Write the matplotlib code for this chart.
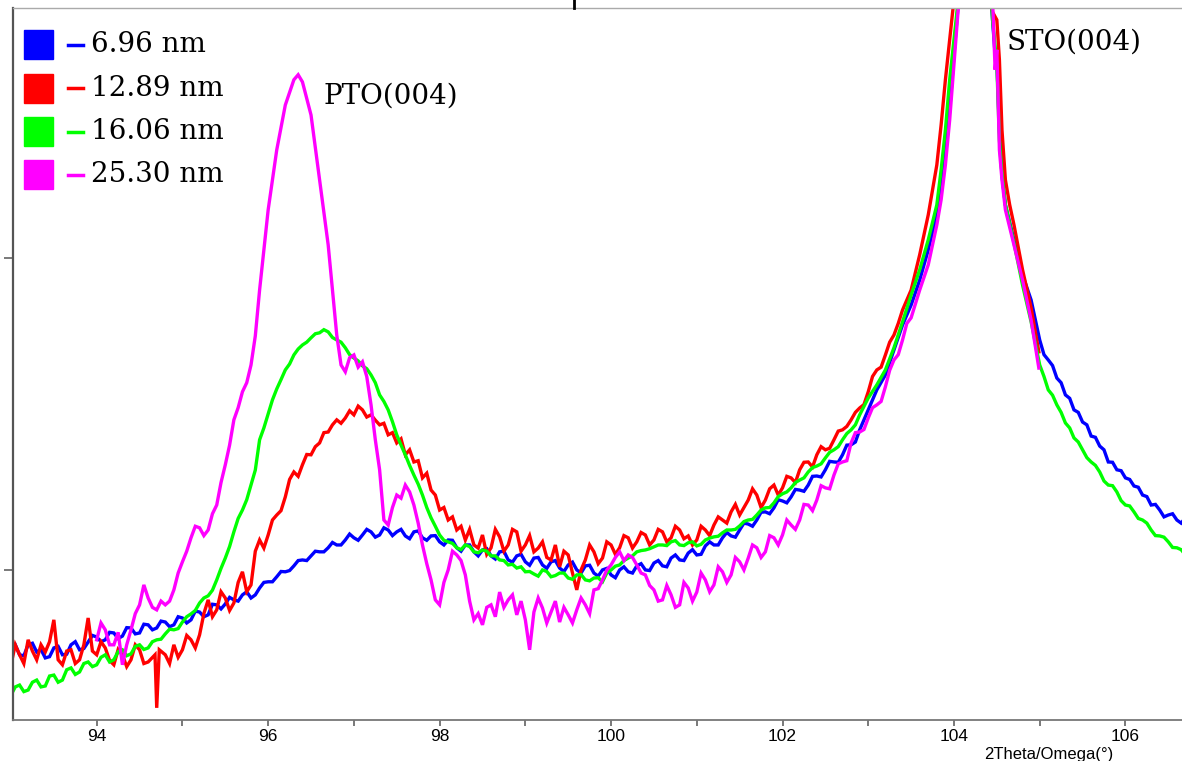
import matplotlib
matplotlib.use("Agg")
import matplotlib.pyplot as plt
from matplotlib.patches import Rectangle
from matplotlib.lines import Line2D

# ---------------- data: (2Theta [deg], log10 intensity) ----------------
labels = ["6.96 nm", "12.89 nm", "16.06 nm", "25.30 nm"]
colors = ["#0000ff", "#ff0000", "#00ff00", "#ff00ff"]

blue_pts = [
    (93.0, 1.744), (93.05, 1.760), (93.1, 1.728), (93.15, 1.725), (93.2, 1.760), (93.25, 1.765),
    (93.3, 1.737), (93.35, 1.745), (93.4, 1.718), (93.45, 1.722), (93.5, 1.750), (93.55, 1.755),
    (93.6, 1.728), (93.65, 1.730), (93.7, 1.760), (93.75, 1.770), (93.8, 1.744), (93.85, 1.748),
    (93.9, 1.769), (93.95, 1.790), (94.0, 1.785), (94.05, 1.770), (94.1, 1.776), (94.15, 1.800),
    (94.2, 1.798), (94.25, 1.780), (94.3, 1.788), (94.35, 1.815), (94.4, 1.814), (94.45, 1.795),
    (94.5, 1.798), (94.55, 1.826), (94.6, 1.824), (94.65, 1.808), (94.7, 1.814), (94.75, 1.836),
    (94.8, 1.833), (94.85, 1.818), (94.9, 1.824), (94.95, 1.850), (95.0, 1.846), (95.05, 1.830),
    (95.1, 1.840), (95.15, 1.868), (95.2, 1.865), (95.25, 1.850), (95.3, 1.856), (95.35, 1.890),
    (95.4, 1.888), (95.45, 1.875), (95.5, 1.891), (95.55, 1.912), (95.6, 1.904), (95.65, 1.900),
    (95.7, 1.920), (95.75, 1.930), (95.8, 1.910), (95.85, 1.920), (95.9, 1.942), (95.95, 1.960),
    (96.0, 1.962), (96.05, 1.962), (96.1, 1.978), (96.15, 1.995), (96.2, 1.994), (96.25, 1.998),
    (96.3, 2.013), (96.35, 2.030), (96.4, 2.032), (96.45, 2.030), (96.5, 2.045), (96.55, 2.060),
    (96.6, 2.058), (96.65, 2.058), (96.7, 2.071), (96.75, 2.088), (96.8, 2.080), (96.85, 2.080),
    (96.9, 2.096), (96.95, 2.115), (97.0, 2.103), (97.05, 2.095), (97.1, 2.112), (97.15, 2.130),
    (97.2, 2.122), (97.25, 2.105), (97.3, 2.112), (97.35, 2.135), (97.4, 2.128), (97.45, 2.110),
    (97.5, 2.122), (97.55, 2.130), (97.6, 2.109), (97.65, 2.100), (97.7, 2.122), (97.75, 2.125),
    (97.8, 2.103), (97.85, 2.095), (97.9, 2.109), (97.95, 2.110), (98.0, 2.090), (98.05, 2.080),
    (98.1, 2.096), (98.15, 2.095), (98.2, 2.071), (98.25, 2.060), (98.3, 2.080), (98.35, 2.080),
    (98.4, 2.058), (98.45, 2.045), (98.5, 2.064), (98.55, 2.068), (98.6, 2.045), (98.65, 2.035),
    (98.7, 2.058), (98.75, 2.060), (98.8, 2.032), (98.85, 2.025), (98.9, 2.045), (98.95, 2.050),
    (99.0, 2.026), (99.05, 2.015), (99.1, 2.038), (99.15, 2.040), (99.2, 2.016), (99.25, 2.005),
    (99.3, 2.026), (99.35, 2.030), (99.4, 2.006), (99.45, 1.995), (99.5, 2.016), (99.55, 2.025),
    (99.6, 2.000), (99.65, 1.990), (99.7, 2.013), (99.75, 2.015), (99.8, 1.990), (99.85, 1.980),
    (99.9, 2.000), (99.95, 2.005), (100.0, 1.984), (100.05, 1.975), (100.1, 2.000), (100.15, 2.010),
    (100.2, 1.994), (100.25, 1.990), (100.3, 2.013), (100.35, 2.020), (100.4, 2.000), (100.45, 1.998),
    (100.5, 2.022), (100.55, 2.030), (100.6, 2.013), (100.65, 2.010), (100.7, 2.038), (100.75, 2.048),
    (100.8, 2.032), (100.85, 2.030), (100.9, 2.054), (100.95, 2.065), (101.0, 2.048), (101.05, 2.050),
    (101.1, 2.077), (101.15, 2.090), (101.2, 2.080), (101.25, 2.080), (101.3, 2.103), (101.35, 2.120),
    (101.4, 2.109), (101.45, 2.105), (101.5, 2.128), (101.55, 2.150), (101.6, 2.147), (101.65, 2.140),
    (101.7, 2.160), (101.75, 2.185), (101.8, 2.186), (101.85, 2.180), (101.9, 2.199), (101.95, 2.225),
    (102.0, 2.221), (102.05, 2.215), (102.1, 2.234), (102.15, 2.258), (102.2, 2.256), (102.25, 2.252),
    (102.3, 2.272), (102.35, 2.300), (102.4, 2.301), (102.45, 2.298), (102.5, 2.321), (102.55, 2.348),
    (102.6, 2.346), (102.65, 2.345), (102.7, 2.369), (102.75, 2.400), (102.8, 2.401), (102.85, 2.410),
    (102.9, 2.449), (103.0, 2.513), (103.1, 2.577), (103.2, 2.625), (103.3, 2.705), (103.4, 2.785),
    (103.5, 2.849), (103.6, 2.929), (103.7, 3.026), (103.8, 3.138), (103.85, 3.218), (103.9, 3.330),
    (103.95, 3.474), (104.0, 3.651), (104.05, 3.811), (104.15, 4.200), (104.25, 4.500), (104.35, 4.200),
    (104.45, 3.763), (104.48, 3.651), (104.5, 3.635), (104.53, 3.410), (104.56, 3.266), (104.6, 3.170),
    (104.7, 3.058), (104.8, 2.946), (104.9, 2.865), (105.0, 2.737), (105.05, 2.690), (105.1, 2.673),
    (105.15, 2.655), (105.2, 2.615), (105.25, 2.600), (105.3, 2.561), (105.35, 2.550), (105.4, 2.513),
    (105.45, 2.505), (105.5, 2.474), (105.55, 2.465), (105.6, 2.429), (105.65, 2.425), (105.7, 2.397),
    (105.75, 2.385), (105.8, 2.346), (105.85, 2.345), (105.9, 2.321), (105.95, 2.318), (106.0, 2.295),
    (106.05, 2.290), (106.1, 2.269), (106.15, 2.265), (106.2, 2.240), (106.25, 2.235), (106.3, 2.208),
    (106.35, 2.210), (106.4, 2.192), (106.45, 2.170), (106.5, 2.176), (106.55, 2.180), (106.6, 2.160),
    (106.65, 2.150), (106.7, 2.167),
]

red_pts = [
    (93.0, 1.696), (93.05, 1.760), (93.1, 1.728), (93.15, 1.700), (93.2, 1.776), (93.25, 1.740),
    (93.3, 1.712), (93.35, 1.760), (93.4, 1.737), (93.45, 1.770), (93.5, 1.840), (93.55, 1.712),
    (93.6, 1.696), (93.65, 1.740), (93.7, 1.744), (93.75, 1.700), (93.8, 1.712), (93.85, 1.760),
    (93.9, 1.846), (93.95, 1.740), (94.0, 1.728), (94.05, 1.770), (94.1, 1.750), (94.15, 1.710),
    (94.2, 1.696), (94.25, 1.745), (94.3, 1.728), (94.35, 1.690), (94.4, 1.712), (94.45, 1.760),
    (94.5, 1.744), (94.55, 1.700), (94.6, 1.705), (94.68, 1.728), (94.7, 1.558), (94.73, 1.744),
    (94.8, 1.728), (94.85, 1.700), (94.9, 1.760), (94.95, 1.720), (95.0, 1.744), (95.05, 1.790),
    (95.1, 1.776), (95.15, 1.750), (95.2, 1.792), (95.25, 1.860), (95.3, 1.904), (95.35, 1.850),
    (95.4, 1.872), (95.45, 1.930), (95.5, 1.910), (95.55, 1.870), (95.6, 1.894), (95.65, 1.960),
    (95.7, 1.994), (95.75, 1.930), (95.8, 1.952), (95.85, 2.060), (95.9, 2.096), (95.95, 2.070),
    (96.0, 2.112), (96.05, 2.160), (96.1, 2.176), (96.15, 2.190), (96.2, 2.234), (96.25, 2.290),
    (96.3, 2.314), (96.35, 2.300), (96.4, 2.337), (96.45, 2.370), (96.5, 2.369), (96.55, 2.395),
    (96.6, 2.407), (96.65, 2.440), (96.7, 2.442), (96.75, 2.465), (96.8, 2.481), (96.85, 2.470),
    (96.9, 2.487), (96.95, 2.510), (97.0, 2.497), (97.05, 2.525), (97.1, 2.513), (97.15, 2.490),
    (97.2, 2.497), (97.25, 2.480), (97.3, 2.465), (97.35, 2.470), (97.4, 2.433), (97.45, 2.440),
    (97.5, 2.407), (97.55, 2.420), (97.6, 2.369), (97.65, 2.385), (97.7, 2.346), (97.75, 2.350),
    (97.8, 2.295), (97.85, 2.310), (97.9, 2.256), (97.95, 2.240), (98.0, 2.192), (98.05, 2.200),
    (98.1, 2.160), (98.15, 2.170), (98.2, 2.128), (98.25, 2.140), (98.3, 2.096), (98.35, 2.130),
    (98.4, 2.080), (98.45, 2.070), (98.5, 2.112), (98.55, 2.050), (98.6, 2.071), (98.65, 2.130),
    (98.7, 2.106), (98.75, 2.060), (98.8, 2.080), (98.85, 2.130), (98.9, 2.122), (98.95, 2.060),
    (99.0, 2.080), (99.05, 2.110), (99.1, 2.058), (99.15, 2.070), (99.2, 2.090), (99.25, 2.040),
    (99.3, 2.032), (99.35, 2.080), (99.4, 2.010), (99.45, 2.060), (99.5, 2.048), (99.55, 1.990),
    (99.6, 1.936), (99.65, 2.000), (99.7, 2.032), (99.75, 2.080), (99.8, 2.058), (99.85, 2.020),
    (99.9, 2.038), (99.95, 2.090), (100.0, 2.080), (100.05, 2.050), (100.1, 2.071), (100.15, 2.110),
    (100.2, 2.103), (100.25, 2.070), (100.3, 2.090), (100.35, 2.120), (100.4, 2.112), (100.45, 2.080),
    (100.5, 2.096), (100.55, 2.130), (100.6, 2.122), (100.65, 2.090), (100.7, 2.103), (100.75, 2.140),
    (100.8, 2.128), (100.85, 2.100), (100.9, 2.109), (100.95, 2.080), (101.0, 2.096), (101.05, 2.140),
    (101.1, 2.128), (101.15, 2.110), (101.2, 2.144), (101.25, 2.170), (101.3, 2.160), (101.35, 2.150),
    (101.4, 2.186), (101.45, 2.210), (101.5, 2.176), (101.55, 2.200), (101.6, 2.224), (101.65, 2.260),
    (101.7, 2.240), (101.75, 2.200), (101.8, 2.224), (101.85, 2.260), (101.9, 2.272), (101.95, 2.240),
    (102.0, 2.263), (102.05, 2.300), (102.1, 2.295), (102.15, 2.280), (102.2, 2.321), (102.25, 2.345),
    (102.3, 2.346), (102.35, 2.330), (102.4, 2.369), (102.45, 2.395), (102.5, 2.385), (102.55, 2.390),
    (102.6, 2.417), (102.65, 2.445), (102.7, 2.449), (102.75, 2.460), (102.8, 2.481), (102.85, 2.505),
    (102.9, 2.519), (102.95, 2.530), (103.0, 2.571), (103.05, 2.620), (103.1, 2.641), (103.15, 2.650),
    (103.2, 2.689), (103.25, 2.730), (103.3, 2.753), (103.35, 2.790), (103.4, 2.833), (103.5, 2.897),
    (103.6, 3.010), (103.7, 3.138), (103.8, 3.298), (103.85, 3.426), (103.9, 3.571), (103.95, 3.699),
    (104.0, 3.827), (104.1, 4.300), (104.25, 4.600), (104.38, 4.200), (104.42, 3.827), (104.45, 3.788),
    (104.5, 3.763), (104.53, 3.635), (104.56, 3.410), (104.6, 3.250), (104.65, 3.170), (104.7, 3.106),
    (104.8, 2.962), (104.9, 2.840), (104.99, 2.699),
]

green_pts = [
    (93.0, 1.599), (93.05, 1.625), (93.1, 1.631), (93.15, 1.610), (93.2, 1.615), (93.25, 1.640),
    (93.3, 1.647), (93.35, 1.625), (93.4, 1.628), (93.45, 1.660), (93.5, 1.663), (93.55, 1.640),
    (93.6, 1.647), (93.65, 1.680), (93.7, 1.686), (93.75, 1.665), (93.8, 1.673), (93.85, 1.700),
    (93.9, 1.705), (93.95, 1.690), (94.0, 1.696), (94.05, 1.720), (94.1, 1.728), (94.15, 1.705),
    (94.2, 1.712), (94.25, 1.738), (94.3, 1.744), (94.35, 1.725), (94.4, 1.731), (94.45, 1.755),
    (94.5, 1.760), (94.55, 1.745), (94.6, 1.750), (94.65, 1.770), (94.7, 1.776), (94.75, 1.778),
    (94.8, 1.795), (94.85, 1.810), (94.9, 1.808), (94.95, 1.812), (95.0, 1.833), (95.05, 1.850),
    (95.1, 1.859), (95.15, 1.870), (95.2, 1.894), (95.25, 1.910), (95.3, 1.917), (95.35, 1.935),
    (95.4, 1.968), (95.45, 2.005), (95.5, 2.038), (95.55, 2.075), (95.6, 2.122), (95.65, 2.165),
    (95.7, 2.192), (95.75, 2.225), (95.8, 2.272), (95.85, 2.320), (95.9, 2.417), (95.95, 2.455),
    (96.0, 2.500), (96.05, 2.545), (96.1, 2.580), (96.15, 2.610), (96.2, 2.641), (96.25, 2.660),
    (96.3, 2.689), (96.35, 2.708), (96.4, 2.721), (96.45, 2.730), (96.5, 2.744), (96.55, 2.757),
    (96.6, 2.760), (96.65, 2.770), (96.7, 2.763), (96.75, 2.745), (96.8, 2.737), (96.85, 2.730),
    (96.9, 2.712), (96.95, 2.690), (97.0, 2.679), (97.05, 2.670), (97.1, 2.654), (97.15, 2.645),
    (97.2, 2.625), (97.25, 2.600), (97.3, 2.561), (97.35, 2.540), (97.4, 2.513), (97.45, 2.475),
    (97.5, 2.433), (97.55, 2.400), (97.6, 2.369), (97.65, 2.335), (97.7, 2.304), (97.75, 2.275),
    (97.8, 2.240), (97.85, 2.200), (97.9, 2.167), (97.95, 2.140), (98.0, 2.112), (98.05, 2.095),
    (98.1, 2.090), (98.15, 2.085), (98.2, 2.071), (98.25, 2.065), (98.3, 2.080), (98.35, 2.075),
    (98.4, 2.058), (98.45, 2.055), (98.5, 2.064), (98.55, 2.060), (98.6, 2.045), (98.65, 2.045),
    (98.7, 2.032), (98.75, 2.030), (98.8, 2.016), (98.85, 2.018), (98.9, 2.006), (98.95, 2.010),
    (99.0, 1.994), (99.05, 1.995), (99.1, 1.987), (99.15, 1.980), (99.2, 2.000), (99.25, 1.995),
    (99.3, 1.978), (99.35, 1.982), (99.4, 1.990), (99.45, 1.990), (99.5, 1.974), (99.55, 1.970),
    (99.6, 1.984), (99.65, 1.985), (99.7, 1.968), (99.75, 1.965), (99.8, 1.974), (99.85, 1.975),
    (99.9, 1.962), (99.95, 1.990), (100.0, 2.000), (100.05, 2.012), (100.1, 2.016), (100.15, 2.030),
    (100.2, 2.038), (100.25, 2.045), (100.3, 2.058), (100.35, 2.062), (100.4, 2.064), (100.45, 2.068),
    (100.5, 2.074), (100.55, 2.080), (100.6, 2.080), (100.65, 2.078), (100.7, 2.090), (100.75, 2.094),
    (100.8, 2.080), (100.85, 2.078), (100.9, 2.087), (100.95, 2.090), (101.0, 2.077), (101.05, 2.082),
    (101.1, 2.096), (101.15, 2.102), (101.2, 2.106), (101.25, 2.108), (101.3, 2.119), (101.35, 2.128),
    (101.4, 2.128), (101.45, 2.130), (101.5, 2.141), (101.55, 2.155), (101.6, 2.160), (101.65, 2.162),
    (101.7, 2.176), (101.75, 2.192), (101.8, 2.199), (101.85, 2.200), (101.9, 2.215), (101.95, 2.235),
    (102.0, 2.244), (102.05, 2.250), (102.1, 2.263), (102.15, 2.280), (102.2, 2.288), (102.25, 2.295),
    (102.3, 2.314), (102.35, 2.328), (102.4, 2.333), (102.45, 2.340), (102.5, 2.359), (102.55, 2.377),
    (102.6, 2.385), (102.65, 2.395), (102.7, 2.417), (102.75, 2.437), (102.8, 2.449), (102.85, 2.465),
    (102.9, 2.497), (103.0, 2.551), (103.1, 2.593), (103.2, 2.641), (103.3, 2.712), (103.4, 2.795),
    (103.5, 2.881), (103.6, 2.962), (103.7, 3.058), (103.8, 3.170), (103.85, 3.282), (103.9, 3.410),
    (103.95, 3.571), (104.0, 3.699), (104.05, 3.827), (104.15, 4.250), (104.25, 4.550), (104.35, 4.250),
    (104.45, 3.763), (104.5, 3.619), (104.53, 3.378), (104.56, 3.266), (104.6, 3.170), (104.7, 3.048),
    (104.8, 2.913), (104.9, 2.795), (105.0, 2.657), (105.05, 2.620), (105.1, 2.577), (105.15, 2.560),
    (105.2, 2.529), (105.25, 2.505), (105.3, 2.471), (105.35, 2.455), (105.4, 2.423), (105.45, 2.410),
    (105.5, 2.385), (105.55, 2.360), (105.6, 2.346), (105.65, 2.335), (105.7, 2.314), (105.75, 2.285),
    (105.8, 2.272), (105.85, 2.270), (105.9, 2.250), (105.95, 2.222), (106.0, 2.208), (106.05, 2.205),
    (106.1, 2.186), (106.15, 2.165), (106.2, 2.160), (106.25, 2.150), (106.3, 2.128), (106.35, 2.110),
    (106.4, 2.109), (106.45, 2.105), (106.5, 2.090), (106.55, 2.072), (106.6, 2.071), (106.65, 2.065),
    (106.7, 2.048),
]

magenta_pts = [
    (94.0, 1.776), (94.05, 1.830), (94.1, 1.808), (94.15, 1.760), (94.2, 1.760), (94.25, 1.800),
    (94.3, 1.696), (94.35, 1.760), (94.4, 1.808), (94.45, 1.860), (94.5, 1.888), (94.55, 1.952),
    (94.6, 1.910), (94.65, 1.880), (94.7, 1.872), (94.75, 1.900), (94.8, 1.888), (94.85, 1.900),
    (94.9, 1.936), (94.95, 1.990), (95.0, 2.026), (95.05, 2.060), (95.1, 2.103), (95.15, 2.140),
    (95.2, 2.135), (95.25, 2.110), (95.3, 2.128), (95.35, 2.180), (95.4, 2.208), (95.45, 2.280),
    (95.5, 2.337), (95.55, 2.400), (95.6, 2.481), (95.65, 2.520), (95.7, 2.571), (95.75, 2.600),
    (95.8, 2.657), (95.85, 2.750), (95.9, 2.897), (96.0, 3.154), (96.1, 3.346), (96.2, 3.490),
    (96.3, 3.571), (96.35, 3.587), (96.4, 3.564), (96.5, 3.458), (96.6, 3.250), (96.7, 3.042),
    (96.8, 2.753), (96.85, 2.657), (96.9, 2.635), (96.95, 2.680), (97.0, 2.689), (97.05, 2.650),
    (97.1, 2.667), (97.15, 2.620), (97.2, 2.529), (97.25, 2.417), (97.3, 2.321), (97.35, 2.160),
    (97.4, 2.144), (97.45, 2.200), (97.5, 2.240), (97.55, 2.230), (97.6, 2.272), (97.65, 2.250),
    (97.7, 2.208), (97.75, 2.150), (97.8, 2.080), (97.85, 2.020), (97.9, 1.968), (97.95, 1.904),
    (98.0, 1.888), (98.05, 1.960), (98.1, 2.000), (98.15, 2.060), (98.2, 2.048), (98.25, 2.030),
    (98.3, 1.984), (98.35, 1.900), (98.4, 1.840), (98.45, 1.860), (98.5, 1.824), (98.55, 1.880),
    (98.6, 1.888), (98.65, 1.850), (98.7, 1.929), (98.75, 1.880), (98.8, 1.904), (98.85, 1.920),
    (98.9, 1.856), (98.95, 1.900), (99.0, 1.840), (99.05, 1.744), (99.1, 1.865), (99.15, 1.910),
    (99.2, 1.878), (99.25, 1.830), (99.3, 1.865), (99.35, 1.900), (99.4, 1.833), (99.45, 1.880),
    (99.5, 1.856), (99.55, 1.830), (99.6, 1.872), (99.65, 1.910), (99.7, 1.888), (99.75, 1.860),
    (99.8, 1.936), (99.85, 1.940), (99.9, 1.968), (99.95, 2.000), (100.0, 2.016), (100.05, 2.040),
    (100.1, 2.058), (100.15, 2.030), (100.2, 2.048), (100.25, 2.040), (100.3, 2.016), (100.35, 1.990),
    (100.4, 1.984), (100.45, 1.950), (100.5, 1.936), (100.55, 1.900), (100.6, 1.904), (100.65, 1.950),
    (100.7, 1.920), (100.75, 1.880), (100.8, 1.888), (100.85, 1.960), (100.9, 1.942), (100.95, 1.900),
    (101.0, 1.929), (101.05, 1.990), (101.1, 1.968), (101.15, 1.930), (101.2, 1.952), (101.25, 2.010),
    (101.3, 1.994), (101.35, 1.960), (101.4, 1.984), (101.45, 2.040), (101.5, 2.026), (101.55, 2.000),
    (101.6, 2.038), (101.65, 2.080), (101.7, 2.071), (101.75, 2.040), (101.8, 2.058), (101.85, 2.110),
    (101.9, 2.103), (101.95, 2.080), (102.0, 2.112), (102.05, 2.160), (102.1, 2.144), (102.15, 2.130),
    (102.2, 2.160), (102.25, 2.210), (102.3, 2.208), (102.35, 2.190), (102.4, 2.224), (102.45, 2.270),
    (102.5, 2.263), (102.55, 2.260), (102.6, 2.304), (102.65, 2.340), (102.7, 2.346), (102.75, 2.350),
    (102.8, 2.407), (102.85, 2.440), (102.9, 2.442), (102.95, 2.450), (103.0, 2.487), (103.05, 2.520),
    (103.1, 2.529), (103.15, 2.540), (103.2, 2.587), (103.25, 2.640), (103.3, 2.673), (103.35, 2.690),
    (103.4, 2.737), (103.45, 2.790), (103.5, 2.808), (103.6, 2.897), (103.7, 2.978), (103.8, 3.106),
    (103.85, 3.186), (103.9, 3.298), (103.95, 3.442), (104.0, 3.619), (104.05, 3.795), (104.15, 4.200),
    (104.25, 4.500), (104.35, 4.200), (104.45, 3.827), (104.48, 3.603), (104.5, 3.667), (104.53, 3.346),
    (104.56, 3.250), (104.6, 3.154), (104.7, 3.042), (104.8, 2.929), (104.9, 2.801), (104.99, 2.647),
]

series = [blue_pts, red_pts, green_pts, magenta_pts]

x_major = [94, 96, 98, 100, 102, 104, 106]
x_minor = [95, 97, 99, 101, 103, 105]
y_major = [2, 3]

# ---------------- figure ----------------
W, H = 1182, 761
fig = plt.figure(figsize=(W / 100, H / 100), dpi=100)
L, R, T, B = 12.7, 1182, 8, 720
ax = fig.add_axes([L / W, 1 - B / H, (R - L) / W, (B - T) / H])

for pts, c in zip(series, colors):
    xs, ys = zip(*pts)
    ax.plot(xs, ys, color=c, lw=2.4, solid_joinstyle="miter")

ax.set_xlim(93.02, 106.66)
ax.set_ylim(1.519, 3.801)

tick_font = ["Liberation Sans Narrow", "Liberation Sans", "DejaVu Sans"]
ax.set_xticks(x_major)
ax.set_xticks(x_minor, minor=True)
ax.set_xticklabels([str(v) for v in x_major], family=tick_font, fontsize=12.5)
ax.set_yticks(y_major)
ax.set_yticklabels([])
ax.tick_params(axis="x", which="both", direction="out", length=4.5, width=1.1,
               color="#555555", pad=2)
ax.tick_params(axis="y", which="major", direction="out", length=6.5, width=1.1,
               color="#555555")
ax.tick_params(axis="y", which="minor", left=False)

ax.spines["right"].set_visible(False)
ax.spines["left"].set_color("#555555")
ax.spines["left"].set_linewidth(1.6)
ax.spines["bottom"].set_color("#777777")
ax.spines["bottom"].set_linewidth(1.3)
ax.spines["top"].set_color("#aaaaaa")
ax.spines["top"].set_linewidth(1.0)

ax.set_xlabel("2Theta/Omega(°)", family=tick_font, fontsize=12, va="center")
ax.xaxis.set_label_coords((1049 - L) / (R - L), (B - 754) / (B - T))

# annotations
serif = ["DejaVu Serif"]
ax.text(96.64, 3.519, "PTO(004)", family=serif, fontsize=20, ha="left", va="center")
ax.text(104.61, 3.692, "STO(004)", family=serif, fontsize=20, ha="left", va="center")

# legend (square + short line + label), in axes fraction
def afrac(px, py):
    return ((px - L) / (R - L), (B - py) / (B - T))

for i, (lab, c) in enumerate(zip(labels, colors)):
    cy = 44.7 + 43.4 * i
    x0, y0 = afrac(24, cy + 14.5)
    ax.add_patch(Rectangle((x0, y0), 29 / (R - L), 29 / (B - T),
                           transform=ax.transAxes, color=c, clip_on=False))
    xa, ya = afrac(68, cy)
    xb, _ = afrac(83, cy)
    ax.add_line(Line2D([xa, xb], [ya, ya], transform=ax.transAxes, color=c, lw=2.5))
    xt, _ = afrac(91, cy)
    ax.text(xt, ya, lab, transform=ax.transAxes, family=serif, fontsize=20,
            ha="left", va="center")

# small mark above the top spine
fig.add_artist(Line2D([574 / W, 574 / W], [1.0, 1 - 8 / H], color="black", lw=2))

fig.savefig("out.png", dpi=100)
